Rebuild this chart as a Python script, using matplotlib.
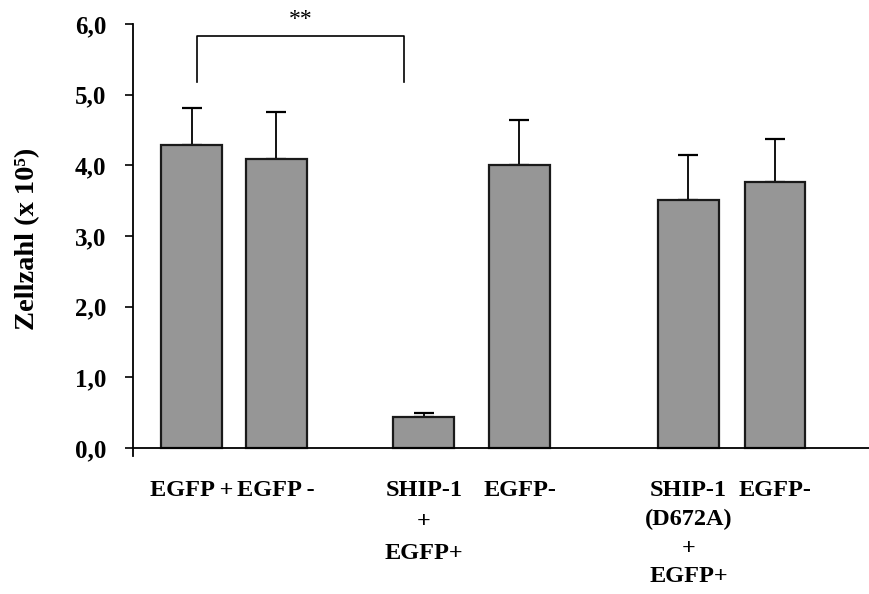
# Zellzahl nach Transfektion (EGFP / SHIP-1 / SHIP-1 D672A)

import matplotlib.pyplot as plt
import numpy as np

labels = ['EGFP +', 'EGFP -', 'SHIP-1\n+\nEGFP+', 'EGFP-',
          'SHIP-1\n(D672A)\n+\nEGFP+', 'EGFP-']
zellzahl = np.array([4.29, 4.09, 0.44, 4.01, 3.51, 3.77])
fehler = np.array([0.52, 0.66, 0.05, 0.63, 0.64, 0.60])
yticks = [0, 1, 2, 3, 4, 5, 6]

# bar centres, in pixels right of the y axis
pos = [58.7, 143.3, 290.7, 386.5, 555.5, 641.8]
breite = 60.5
zeilen = [1.2, 1.2, 1.65, 1.2, 1.48, 1.2]

plt.rcParams['font.family'] = ['Liberation Serif', 'DejaVu Serif']
plt.rcParams['font.weight'] = 'bold'

fig = plt.figure(figsize=(8.7, 5.94), dpi=100)
ax = fig.add_axes([133/870., 1-456/594., 1-133/870., 432/594.])

ax.bar(pos, zellzahl, width=breite, color='#969696', edgecolor='#1a1a1a',
       linewidth=1.6, zorder=2)
ax.errorbar(pos, zellzahl, yerr=[np.zeros(len(fehler)), fehler], fmt='none',
            ecolor='k', elinewidth=1.3, capsize=7.5, capthick=1.6, zorder=1)

ax.set_xlim(0, 737)
ax.set_ylim(-8/70.67, 6)
ax.set_yticks(yticks, ['%d,0' % t for t in yticks])
ax.set_xticks([])

ax.spines['top'].set_visible(False)
ax.spines['right'].set_visible(False)
ax.spines['bottom'].set_position(('data', 0))
ax.spines['left'].set_linewidth(1.3)
ax.spines['bottom'].set_linewidth(1.3)
ax.tick_params(axis='y', direction='out', length=6, width=1.2, pad=13,
               labelsize=18)

# category labels under the bars
for p, lab, ls in zip(pos, labels, zeilen):
    ax.annotate(lab, xy=(p, 0), xytext=(0, -23), textcoords='offset points',
                ha='center', va='top', fontsize=17.5, fontweight='bold',
                linespacing=ls, annotation_clip=False)

# significance bracket
ax.plot([64.3, 64.3, 271, 271], [5.18, 5.83, 5.83, 5.18], color='k', lw=1.2,
        clip_on=False)
ax.text(168, 6.06, '**', ha='center', va='center', fontsize=17,
        fontweight='normal', clip_on=False)

fig.text(28/870., 1-239/594., 'Zellzahl (x 10\u2075)', rotation=90,
         ha='center', va='center', fontsize=20.5, fontweight='bold')

plt.savefig('out.png', dpi=100)
